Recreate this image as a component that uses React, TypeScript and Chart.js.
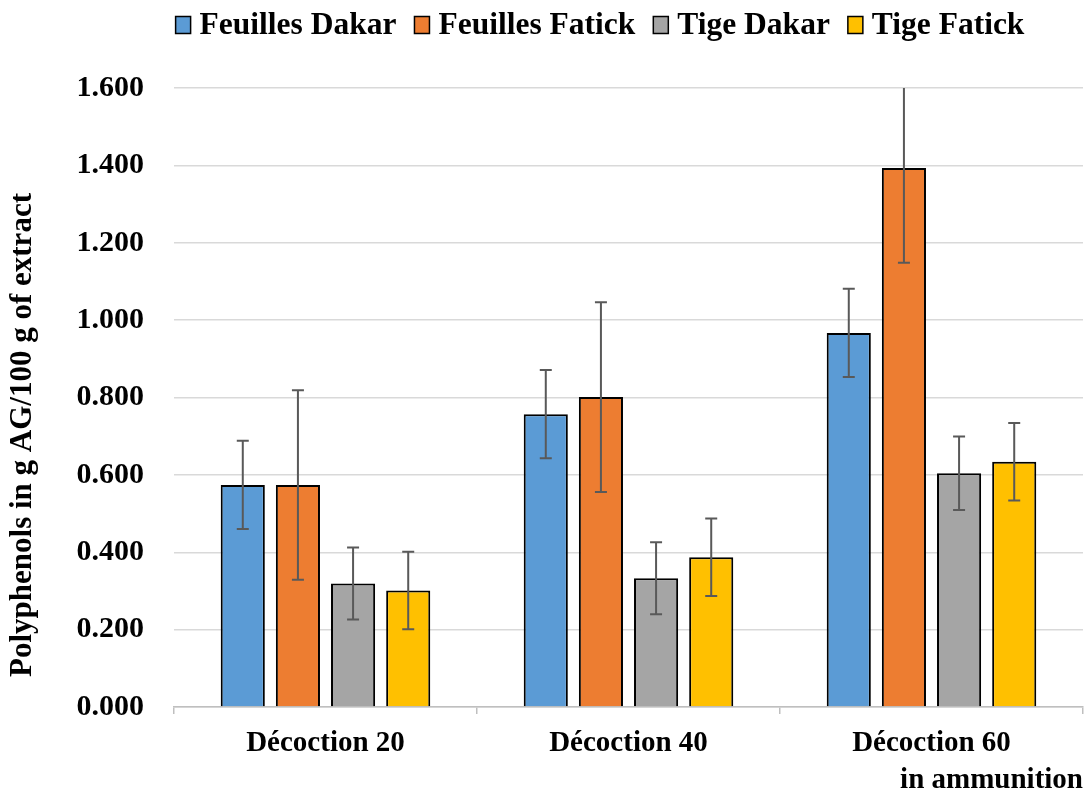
import React, { useEffect, useRef } from "react";
import { Chart, registerables } from "chart.js";

Chart.register(...registerables);

const categories = ["Décoction 20", "Décoction 40", "Décoction 60"];
const seriesNames = ["Feuilles Dakar", "Feuilles Fatick", "Tige Dakar", "Tige Fatick"];
const feuillesDakar = [0.574, 0.757, 0.967];
const feuillesFatick = [0.574, 0.801, 1.393];
const tigeDakar = [0.319, 0.333, 0.604];
const tigeFatick = [0.301, 0.387, 0.634];
const errFeuillesDakar = [0.114, 0.114, 0.114];
const errFeuillesFatick = [0.245, 0.245, 0.245];
const errTigeDakar = [0.093, 0.093, 0.095];
const errTigeFatick = [0.1, 0.1, 0.1];
const colors = ["#5B9BD5", "#ED7D31", "#A5A5A5", "#FFC000"];
const yTitle = "Polyphenols in g AG/100 g of extract";
const xTitle = "in ammunition";

const FONT = "'Liberation Serif', 'Times New Roman', serif";

const errorBarPlugin = {
  id: "errorBars",
  afterDatasetsDraw(chart: any) {
    const ctx = chart.ctx;
    const area = chart.chartArea;
    const y = chart.scales.y;
    ctx.save();
    ctx.beginPath();
    ctx.rect(area.left, area.top, area.right - area.left, area.bottom - area.top);
    ctx.clip();
    ctx.strokeStyle = "#595959";
    ctx.lineWidth = 2;
    chart.data.datasets.forEach((ds: any, i: number) => {
      const meta = chart.getDatasetMeta(i);
      meta.data.forEach((el: any, j: number) => {
        const v = ds.data[j];
        const e = ds.errors[j];
        const yt = y.getPixelForValue(v + e);
        const yb = y.getPixelForValue(v - e);
        const x = el.x;
        ctx.beginPath();
        ctx.moveTo(x, yt);
        ctx.lineTo(x, yb);
        ctx.moveTo(x - 6, yt);
        ctx.lineTo(x + 6, yt);
        ctx.moveTo(x - 6, yb);
        ctx.lineTo(x + 6, yb);
        ctx.stroke();
      });
    });
    ctx.restore();
  },
};

const customTextPlugin = {
  id: "customText",
  afterDraw(chart: any) {
    const ctx = chart.ctx;
    ctx.save();
    // legend
    ctx.font = `bold 31.5px ${FONT}`;
    ctx.textBaseline = "middle";
    ctx.textAlign = "left";
    const boxW = 15;
    const boxH = 17;
    const gapBoxText = 9;
    const gapItems = 18;
    const widths = seriesNames.map((n) => ctx.measureText(n).width);
    const total =
      widths.reduce((a: number, b: number) => a + b, 0) +
      seriesNames.length * (boxW + gapBoxText) +
      (seriesNames.length - 1) * gapItems;
    let x = 600 - total / 2;
    const cy = 25;
    seriesNames.forEach((n, i) => {
      ctx.fillStyle = colors[i];
      ctx.fillRect(x, cy - boxH / 2, boxW, boxH);
      ctx.strokeStyle = "#000";
      ctx.lineWidth = 1.5;
      ctx.strokeRect(x, cy - boxH / 2, boxW, boxH);
      x += boxW + gapBoxText;
      ctx.fillStyle = "#000";
      ctx.fillText(n, x, cy + 1);
      x += widths[i] + gapItems;
    });
    // y title
    ctx.translate(23, 435);
    ctx.rotate(-Math.PI / 2);
    ctx.textAlign = "center";
    ctx.textBaseline = "middle";
    ctx.font = `bold 31px ${FONT}`;
    ctx.fillStyle = "#000";
    ctx.fillText(yTitle, 0, 0);
    ctx.restore();
  },
};

export default function App() {
  const ref = useRef<HTMLCanvasElement | null>(null);
  useEffect(() => {
    if (!ref.current) return;
    const errs = [errFeuillesDakar, errFeuillesFatick, errTigeDakar, errTigeFatick];
    const vals = [feuillesDakar, feuillesFatick, tigeDakar, tigeFatick];
    const chart = new Chart(ref.current, {
      type: "bar",
      data: {
        labels: categories,
        datasets: seriesNames.map((name, i) => ({
          label: name,
          data: vals[i],
          errors: errs[i],
          backgroundColor: colors[i],
          borderColor: "#000",
          borderWidth: 2,
          categoryPercentage: 0.728,
          barPercentage: 0.8,
        })) as any,
      },
      options: {
        responsive: false,
        animation: false,
        devicePixelRatio: 1,
        layout: { padding: { top: 88, right: 1, left: 0, bottom: 0 } },
        plugins: {
          legend: { display: false },
          tooltip: { enabled: false },
        },
        scales: {
          x: {
            grid: {
              drawOnChartArea: false,
              drawTicks: true,
              tickLength: 7,
              color: "#bfbfbf",
              lineWidth: 1.5,
            },
            border: { color: "#bfbfbf", width: 1.5 },
            ticks: {
              color: "#000",
              font: { family: FONT, size: 29, weight: "bold" },
              padding: 12,
              maxRotation: 0,
            },
            title: {
              display: true,
              text: xTitle,
              align: "end",
              color: "#000",
              font: { family: FONT, size: 29, weight: "bold" },
              padding: { top: 2, bottom: 0 },
            },
            afterFit: (s: any) => {
              s.height = 91;
            },
          },
          y: {
            min: 0,
            max: 1.6,
            ticks: {
              stepSize: 0.2,
              color: "#000",
              font: { family: FONT, size: 30, weight: "bold" },
              padding: 30,
              callback: (v: any) => Number(v).toFixed(3),
            },
            grid: { color: "#d9d9d9", lineWidth: 1.5, drawTicks: false },
            border: { display: false },
            afterFit: (s: any) => {
              s.width = 174;
            },
          },
        },
      },
      plugins: [errorBarPlugin, customTextPlugin],
    });
    return () => chart.destroy();
  }, []);
  return (
    <div style={{ position: "fixed", left: 0, top: 0, width: 1084, height: 798, background: "#fff" }}>
      <canvas ref={ref} width={1084} height={798} />
    </div>
  );
}
